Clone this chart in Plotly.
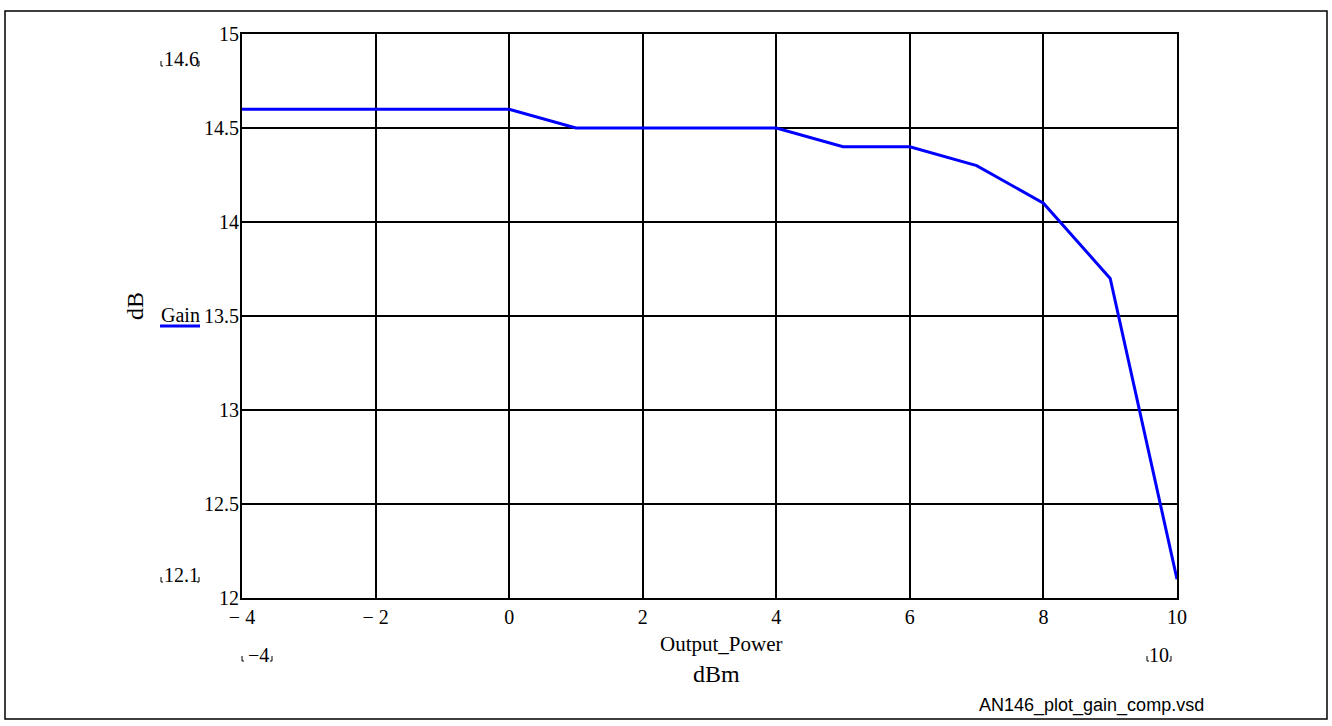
import plotly.graph_objects as go

output_power = [-4, -3, -2, -1, 0, 1, 2, 3, 4, 5, 6, 7, 8, 9, 10]
gain = [14.6, 14.6, 14.6, 14.6, 14.6, 14.5, 14.5, 14.5, 14.5, 14.4, 14.4, 14.3, 14.1, 13.7, 12.1]

x_ticks = [-4, -2, 0, 2, 4, 6, 8, 10]
x_ticktext = ["\u2212 4", "\u2212 2", "0", "2", "4", "6", "8", "10"]
y_ticks = [12, 12.5, 13, 13.5, 14, 14.5, 15]
y_ticktext = ["12", "12.5", "13", "13.5", "14", "14.5", "15"]

W, H = 1332, 726
L, R, T, B = 242, 1177, 34, 598
pw, ph = R - L, B - T


def px(x):
    return (x - L) / pw


def py(y):
    return (B - y) / ph


serif = "Times New Roman, Liberation Serif, DejaVu Serif, serif"
sans = "Arial, Liberation Sans, sans-serif"
fig = go.Figure()
fig.add_trace(go.Scatter(x=output_power, y=gain, mode="lines",
                         line=dict(color="#0000ff", width=3), showlegend=False,
                         cliponaxis=False))

axis_common = dict(showline=True, mirror=True, linecolor="black", linewidth=2,
                   showgrid=True, gridcolor="black", gridwidth=1.5, zeroline=False,
                   ticks="", tickfont=dict(family=serif, size=20, color="black"))
fig.update_xaxes(range=[-4, 10], tickvals=x_ticks, ticktext=x_ticktext, **axis_common)
fig.update_yaxes(range=[12, 15], tickvals=y_ticks, ticktext=y_ticktext,
                 ticklabelstandoff=-3, **axis_common)

ann = []


def text(x, y, s, size=20, family=serif, angle=0, xanchor="center"):
    ann.append(dict(x=px(x), y=py(y), xref="paper", yref="paper", text=s, showarrow=False,
                    font=dict(family=family, size=size, color="black"), textangle=angle,
                    xanchor=xanchor, yanchor="middle"))


text(181, 59, "14.6")
text(181, 575, "12.1")
text(258, 655, "\u22124")
text(1159, 655, "10")
text(721, 644, "Output_Power", size=21)
text(716, 674, "dBm", size=24)
text(135, 306, "dB", size=24, angle=-90)
text(180, 315, "Gain", size=20)
text(1091, 705, "AN146_plot_gain_comp.vsd", size=18, family=sans)

shapes = [
    dict(type="rect", xref="paper", yref="paper", x0=px(5), x1=px(1327), y0=py(11), y1=py(719),
         line=dict(color="black", width=1.5)),
    dict(type="line", xref="paper", yref="paper", x0=px(160), x1=px(200), y0=py(326), y1=py(326),
         line=dict(color="#0000ff", width=3)),
]
# Mathcad placeholder corner marks
for (x0, x1, y0) in [(161, 199, 66), (161, 199, 582), (242, 272, 661), (1147, 1171, 661)]:
    shapes.append(dict(type="path", xref="paper", yref="paper",
                       path=f"M {px(x0)} {py(y0-5)} L {px(x0)} {py(y0)} L {px(x0+2)} {py(y0)}",
                       line=dict(color="black", width=1)))
    shapes.append(dict(type="path", xref="paper", yref="paper",
                       path=f"M {px(x1)} {py(y0-5)} L {px(x1)} {py(y0)} L {px(x1-2)} {py(y0)}",
                       line=dict(color="black", width=1)))

fig.update_layout(width=W, height=H, margin=dict(l=L, r=W - R, t=T, b=H - B),
                  paper_bgcolor="white", plot_bgcolor="white",
                  font=dict(family=serif, color="black"),
                  annotations=ann, shapes=shapes)
fig.write_html("out.html", config={"displayModeBar": False},
               post_script="document.body.style.margin='0';document.body.style.padding='0';")
